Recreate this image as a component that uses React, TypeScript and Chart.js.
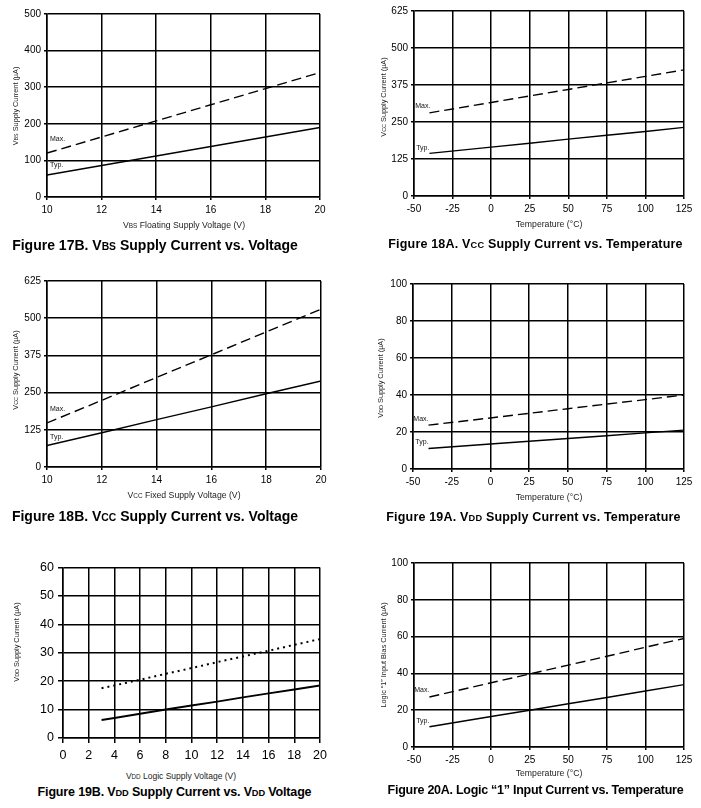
import React, { useEffect, useRef } from "react";
import { Chart, registerables } from "chart.js";
Chart.register(...registerables);

const FONT = "'Liberation Sans', Arial, Helvetica, sans-serif";

// Figure 17B – VBS supply current vs voltage
const vbsVoltage = [10, 12, 14, 16, 18, 20];
const vbsMax = [120, 164, 208, 252, 296, 340];
const vbsTyp = [60, 86, 112, 138, 164, 190];

// Figure 18A – VCC supply current vs temperature
const tempPoints = [-40, 0, 25, 50, 75, 100, 125];
const vccTempMax = [281, 316, 338, 360, 382, 404, 426];
const vccTempTyp = [144, 165, 178, 192, 205, 218, 232];

// Figure 18B – VCC supply current vs voltage
const vccVoltage = [10, 12, 14, 16, 18, 20];
const vccVoltMax = [148, 224, 301, 377, 454, 530];
const vccVoltTyp = [72, 115, 159, 202, 246, 289];

// Figure 19A – VDD supply current vs temperature
const vddTempMax = [23.7, 27.6, 30.1, 32.6, 35.1, 37.5, 40];
const vddTempTyp = [11.1, 13.5, 15, 16.5, 18, 19.5, 21];

// Figure 19B – VDD supply current vs VDD voltage
const vddVoltage = [3, 4, 6, 8, 10, 12, 14, 16, 18, 20];
const vddVoltUpper = [17.5, 18.5, 20.5, 22.6, 24.6, 26.7, 28.7, 30.7, 32.8, 34.8];
const vddVoltLower = [6.3, 7.0, 8.5, 10, 11.4, 12.8, 14.3, 15.7, 17.1, 18.5];

// Figure 20A – Logic "1" input current vs temperature
const logicMax = [27.2, 34.9, 39.7, 44.5, 49.3, 54.2, 59];
const logicTyp = [11, 16.6, 20, 23.5, 26.9, 30.4, 33.9];

// axis ranges [min, max, step]
const voltRange = [10, 20, 2];
const tempRange = [-50, 125, 25];
const vddRange = [0, 20, 2];
const currentRange500 = [0, 500, 100];
const currentRange625 = [0, 625, 125];
const currentRange100 = [0, 100, 20];
const currentRange60 = [0, 60, 10];

const pts = (xs: number[], ys: number[]) => xs.map((x, i) => ({ x, y: ys[i] }));

const tagPlugin = {
  id: "tags",
  afterDatasetsDraw(chart: any) {
    const ctx = chart.ctx;
    chart.data.datasets.forEach((ds: any, i: number) => {
      const tag = ds.tag;
      if (!tag) return;
      const p = chart.getDatasetMeta(i).data[0];
      ctx.save();
      ctx.font = `7px ${FONT}`;
      ctx.fillStyle = "#111";
      ctx.textAlign = tag.align;
      ctx.textBaseline = "middle";
      ctx.fillText(tag.text, p.x + tag.dx, p.y + tag.dy);
      ctx.restore();
    });
  },
};

type Series = { xs: number[]; ys: number[]; dash?: number[]; width?: number; tag?: any };
type Cfg = {
  L: number; T: number; R: number; B: number;
  xr: number[]; yr: number[];
  font: number;
  series: Series[];
  xTick: number; xPad: number; yTick: number; yPad: number;
};

const PAD_L = 46, PAD_T = 10, PAD_R = 16, PAD_B = 26;

function Panel({ cfg }: { cfg: Cfg }) {
  const ref = useRef<HTMLCanvasElement | null>(null);
  const w = cfg.R - cfg.L + PAD_L + PAD_R;
  const h = cfg.B - cfg.T + PAD_T + PAD_B;
  useEffect(() => {
    const tickFont = { family: FONT, size: cfg.font };
    const chart = new Chart(ref.current as HTMLCanvasElement, {
      type: "line",
      data: {
        datasets: cfg.series.map((s) => ({
          data: pts(s.xs, s.ys),
          borderColor: "#000",
          borderWidth: s.width ?? 1.4,
          borderDash: s.dash ?? [],
          borderCapStyle: "butt",
          pointRadius: 0,
          tension: 0,
          fill: false,
          tag: s.tag,
        })) as any,
      },
      options: {
        responsive: false,
        animation: false,
        devicePixelRatio: 1,
        layout: { padding: { left: 0, top: PAD_T, right: PAD_R, bottom: 0 } },
        plugins: { legend: { display: false }, tooltip: { enabled: false }, title: { display: false } },
        scales: {
          x: {
            type: "linear",
            min: cfg.xr[0],
            max: cfg.xr[1],
            ticks: { stepSize: cfg.xr[2], color: "#000", font: tickFont, padding: cfg.xPad, maxRotation: 0, autoSkip: false },
            grid: { color: "#000", lineWidth: 1.5, tickLength: cfg.xTick, tickColor: "#000", tickWidth: 1.5 },
            border: { color: "#000", width: 1.5 },
            afterFit: (s: any) => { s.height = PAD_B; },
          },
          y: {
            type: "linear",
            min: cfg.yr[0],
            max: cfg.yr[1],
            ticks: { stepSize: cfg.yr[2], color: "#000", font: tickFont, padding: cfg.yPad, autoSkip: false },
            grid: { color: "#000", lineWidth: 1.5, tickLength: cfg.yTick, tickColor: "#000", tickWidth: 1.5 },
            border: { color: "#000", width: 1.5 },
            afterFit: (s: any) => { s.width = PAD_L; },
          },
        },
      } as any,
      plugins: [tagPlugin],
    });
    return () => chart.destroy();
  }, []);
  return (
    <canvas
      ref={ref}
      width={w}
      height={h}
      style={{ position: "absolute", left: cfg.L - PAD_L, top: cfg.T - PAD_T, width: w, height: h }}
    />
  );
}

const DASH = [10, 5];

const panels: Cfg[] = [
  {
    L: 47, T: 14, R: 320, B: 197, xr: voltRange, yr: currentRange500, font: 10,
    xTick: 3, xPad: 4, yTick: 3, yPad: 3,
    series: [
      { xs: vbsVoltage, ys: vbsMax, dash: DASH, tag: { text: "Max.", align: "left", dx: 3, dy: -14 } },
      { xs: vbsVoltage, ys: vbsTyp, tag: { text: "Typ.", align: "left", dx: 3, dy: -10 } },
    ],
  },
  {
    L: 414, T: 11, R: 684, B: 196, xr: tempRange, yr: currentRange625, font: 10,
    xTick: 3, xPad: 4, yTick: 3, yPad: 3,
    series: [
      { xs: tempPoints, ys: vccTempMax, dash: DASH, tag: { text: "Max.", align: "right", dx: 1, dy: -7 } },
      { xs: tempPoints, ys: vccTempTyp, tag: { text: "Typ.", align: "right", dx: 0, dy: -5 } },
    ],
  },
  {
    L: 47, T: 281, R: 321, B: 467, xr: voltRange, yr: currentRange625, font: 10,
    xTick: 3, xPad: 4, yTick: 3, yPad: 3,
    series: [
      { xs: vccVoltage, ys: vccVoltMax, dash: DASH, tag: { text: "Max.", align: "left", dx: 3, dy: -14 } },
      { xs: vccVoltage, ys: vccVoltTyp, tag: { text: "Typ.", align: "left", dx: 3, dy: -9 } },
    ],
  },
  {
    L: 413, T: 284, R: 684, B: 469, xr: tempRange, yr: currentRange100, font: 10,
    xTick: 3, xPad: 4, yTick: 3, yPad: 3,
    series: [
      { xs: tempPoints, ys: vddTempMax, dash: DASH, tag: { text: "Max.", align: "right", dx: 0, dy: -6 } },
      { xs: tempPoints, ys: vddTempTyp, tag: { text: "Typ.", align: "right", dx: 0, dy: -6 } },
    ],
  },
  {
    L: 63, T: 566, R: 320, B: 738, xr: vddRange, yr: currentRange60, font: 12.5,
    xTick: 5, xPad: 5, yTick: 5, yPad: 4,
    series: [
      { xs: vddVoltage, ys: vddVoltUpper, dash: [2, 4], width: 2 },
      { xs: vddVoltage, ys: vddVoltLower, width: 2 },
    ],
  },
  {
    L: 414, T: 563, R: 684, B: 747, xr: tempRange, yr: currentRange100, font: 10,
    xTick: 3, xPad: 4, yTick: 3, yPad: 3,
    series: [
      { xs: tempPoints, ys: logicMax, dash: DASH, tag: { text: "Max.", align: "right", dx: 0, dy: -7 } },
      { xs: tempPoints, ys: logicTyp, tag: { text: "Typ.", align: "right", dx: 0, dy: -6 } },
    ],
  },
];

const Sub = ({ children }: { children: React.ReactNode }) => (
  <span style={{ fontSize: "0.74em" }}>{children}</span>
);

function Text({ x, y, size, bold, rotate, spacing, children }: any) {
  return (
    <div
      style={{
        position: "absolute",
        left: x,
        top: y,
        transform: `translate(-50%, -50%)${rotate ? " rotate(-90deg)" : ""}`,
        fontSize: size,
        fontWeight: bold ? "bold" : "normal",
        letterSpacing: spacing ?? 0,
        whiteSpace: "nowrap",
        lineHeight: 1,
        color: bold ? "#000" : "#222",
        fontFamily: FONT,
      }}
    >
      {children}
    </div>
  );
}

const YT = 7.3;

export default function App() {
  return (
    <div style={{ position: "fixed", left: 0, top: 0, width: 701, height: 808, background: "#fff", overflow: "hidden" }}>
      {panels.map((p, i) => (
        <Panel key={i} cfg={p} />
      ))}

      {/* Figure 17B */}
      <Text x={184} y={225} size={8.7}>V<Sub>BS</Sub> Floating Supply Voltage (V)</Text>
      <Text x={16} y={106} size={YT} rotate>V<Sub>BS</Sub> Supply Current (µA)</Text>
      <Text x={155} y={245} size={14} bold>Figure 17B. V<Sub>BS</Sub> Supply Current vs. Voltage</Text>

      {/* Figure 18A */}
      <Text x={549} y={224} size={8.7}>Temperature (°C)</Text>
      <Text x={384} y={97} size={YT} rotate>V<Sub>CC</Sub> Supply Current (µA)</Text>
      <Text x={535.5} y={244} size={12.5} bold spacing={0.18}>Figure 18A. V<Sub>CC</Sub> Supply Current vs. Temperature</Text>

      {/* Figure 18B */}
      <Text x={184} y={495} size={8.7}>V<Sub>CC</Sub> Fixed Supply Voltage (V)</Text>
      <Text x={16} y={370} size={YT} rotate>V<Sub>CC</Sub> Supply Current (µA)</Text>
      <Text x={155} y={516} size={14} bold>Figure 18B. V<Sub>CC</Sub> Supply Current vs. Voltage</Text>

      {/* Figure 19A */}
      <Text x={549} y={497} size={8.7}>Temperature (°C)</Text>
      <Text x={381} y={378} size={YT} rotate>V<Sub>DD</Sub> Supply Current (µA)</Text>
      <Text x={533.5} y={517} size={12.5} bold spacing={0.18}>Figure 19A. V<Sub>DD</Sub> Supply Current vs. Temperature</Text>

      {/* Figure 19B */}
      <Text x={181} y={776} size={8.5}>V<Sub>DD</Sub> Logic Supply Voltage (V)</Text>
      <Text x={17} y={642} size={YT} rotate>V<Sub>DD</Sub> Supply Current (µA)</Text>
      <Text x={174.5} y={792} size={12.5} bold spacing={-0.15}>Figure 19B. V<Sub>DD</Sub> Supply Current vs. V<Sub>DD</Sub> Voltage</Text>

      {/* Figure 20A */}
      <Text x={549} y={773} size={8.7}>Temperature (°C)</Text>
      <Text x={384} y={655} size={YT} rotate>Logic “1” Input Bias Current (µA)</Text>
      <Text x={535.5} y={790} size={12.5} bold spacing={-0.27}>Figure 20A. Logic “1” Input Current vs. Temperature</Text>
    </div>
  );
}
